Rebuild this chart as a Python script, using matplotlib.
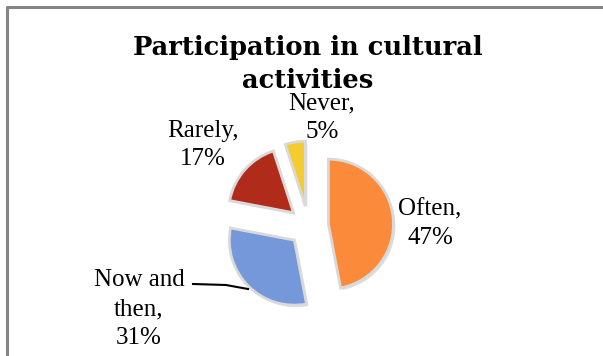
import matplotlib.pyplot as plt
from matplotlib.lines import Line2D

labels = ["Often", "Now and then", "Rarely", "Never"]
values = [47, 31, 17, 5]
colors = ["#FB8B3B", "#7598DA", "#B12B1A", "#F5CC30"]
label_text = ["Often,\n47%", "Now and\nthen,\n31%", "Rarely,\n17%", "Never,\n5%"]

W, H = 603, 356
fig = plt.figure(figsize=(W / 100, H / 100), dpi=100)
ax = fig.add_axes([0, 0, 1, 1])

cx, cy, r = 308.5, H - 226, 65
explode = [20] * len(values)  # in data units (pixels here)

# soft shadow under the slices
ax.pie(values, explode=explode, radius=r, center=(cx + 2, cy - 2),
       startangle=90, counterclock=False, frame=True,
       colors=["#000000"] * 4,
       wedgeprops=dict(alpha=0.12, linewidth=0))
ax.pie(values, explode=explode, radius=r, center=(cx, cy),
       startangle=90, counterclock=False, frame=True, colors=colors,
       wedgeprops=dict(edgecolor="#D9D9D9", linewidth=2))
ax.set_xlim(0, W)
ax.set_ylim(0, H)
ax.set_aspect("equal")
ax.axis("off")

ax.text(308, H - 55, "Participation in cultural", ha="center",
        va="baseline", fontsize=18.5, fontweight="bold", family="DejaVu Serif")
ax.text(308, H - 88, "activities", ha="center",
        va="baseline", fontsize=18.5, fontweight="bold", family="DejaVu Serif")

font = "Liberation Serif"
pos = [(430, H - 224), (139, H - 309), (203, H - 145), (322, H - 118)]
for (x, y), t in zip(pos, label_text):
    ax.text(x, y, t, ha="center", va="center", fontsize=18, family=font,
            linespacing=1.4)

# leader line for the "Now and then" label
ax.add_line(Line2D([193, 226, 248], [H - 284, H - 285, H - 289],
                   color="black", linewidth=1.5))

# outer frame
ax.add_line(Line2D([6.5, 6.5, W + 5], [-5, H - 7, H - 7],
                   color="#858585", linewidth=2.2, clip_on=False))

fig.savefig("out.png", dpi=100)
